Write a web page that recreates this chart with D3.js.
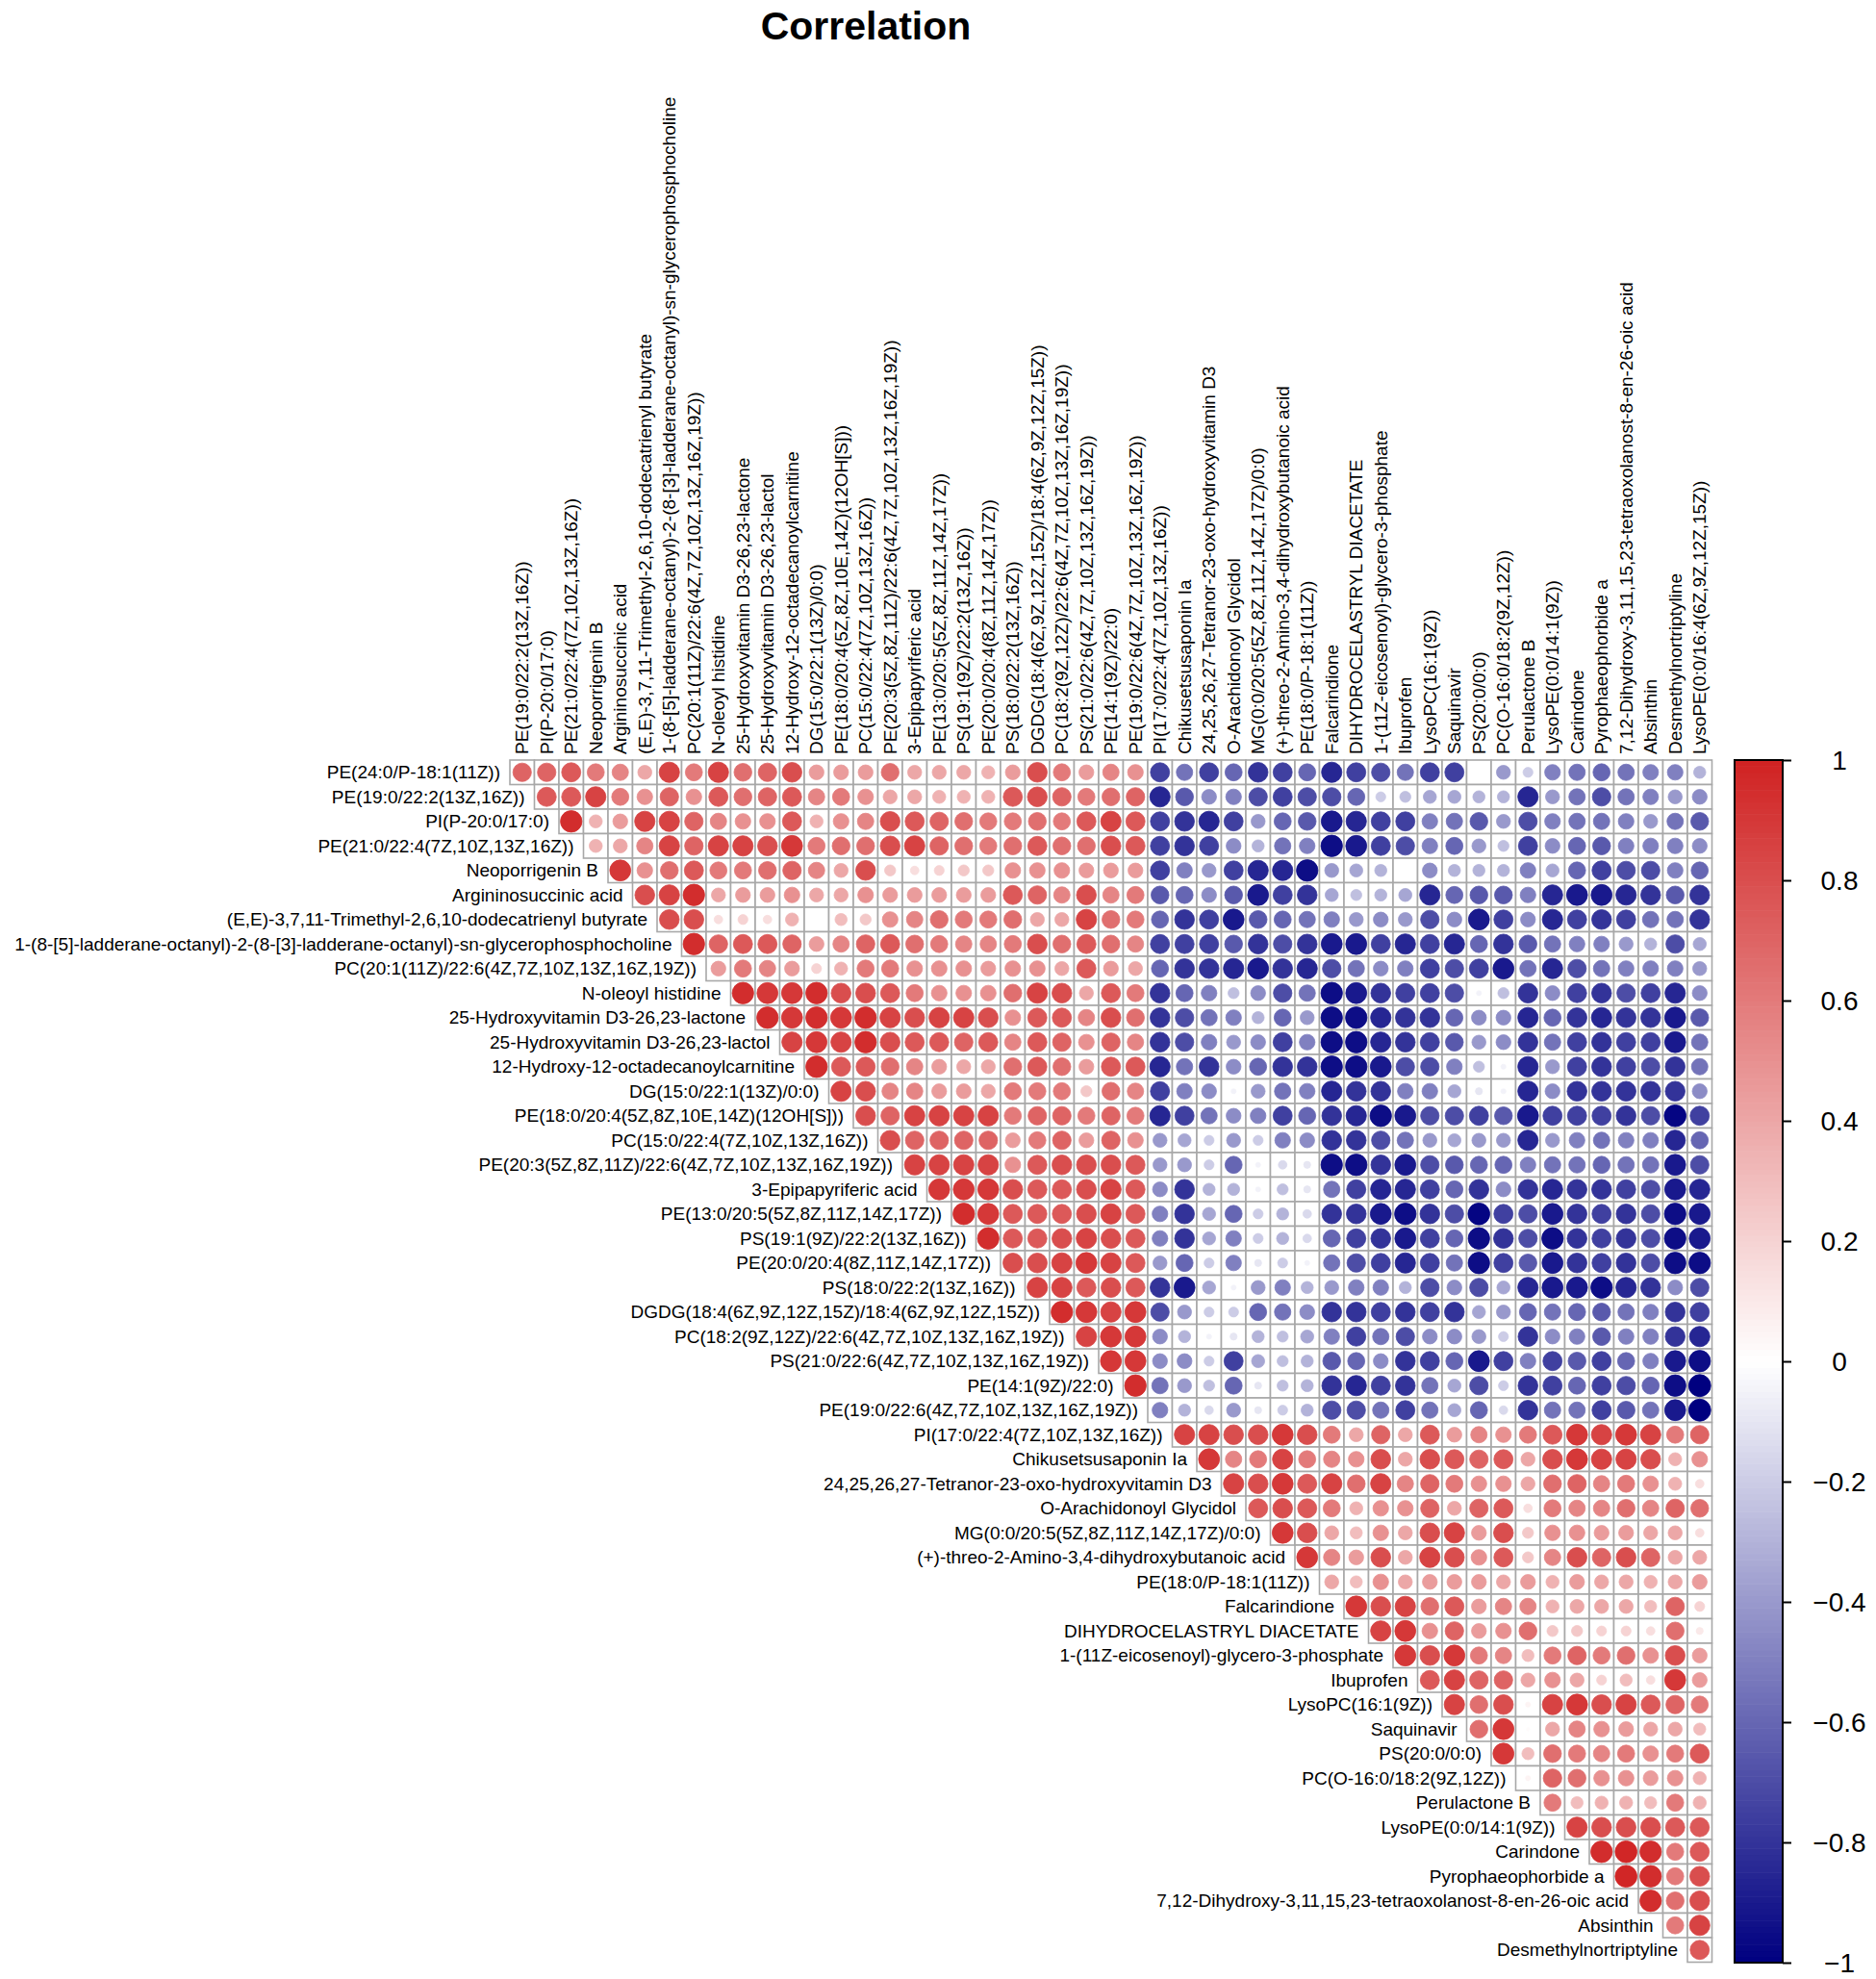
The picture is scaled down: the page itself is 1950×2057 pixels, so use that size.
<!DOCTYPE html>
<html>
<head>
<meta charset="utf-8">
<script src="https://cdn.jsdelivr.net/npm/d3@7"></script>
<style>
  html, body { margin: 0; padding: 0; background: #fff; }
  svg { display: block; font-family: "Liberation Sans", Arial, Helvetica, sans-serif; }
</style>
</head>
<body>
<svg id="chart" width="1950" height="2057"></svg>
<script>
// ---------- DATA ----------
const variables = [
  "PE(24:0/P-18:1(11Z))",
  "PE(19:0/22:2(13Z,16Z))",
  "PI(P-20:0/17:0)",
  "PE(21:0/22:4(7Z,10Z,13Z,16Z))",
  "Neoporrigenin B",
  "Argininosuccinic acid",
  "(E,E)-3,7,11-Trimethyl-2,6,10-dodecatrienyl butyrate",
  "1-(8-[5]-ladderane-octanyl)-2-(8-[3]-ladderane-octanyl)-sn-glycerophosphocholine",
  "PC(20:1(11Z)/22:6(4Z,7Z,10Z,13Z,16Z,19Z))",
  "N-oleoyl histidine",
  "25-Hydroxyvitamin D3-26,23-lactone",
  "25-Hydroxyvitamin D3-26,23-lactol",
  "12-Hydroxy-12-octadecanoylcarnitine",
  "DG(15:0/22:1(13Z)/0:0)",
  "PE(18:0/20:4(5Z,8Z,10E,14Z)(12OH[S]))",
  "PC(15:0/22:4(7Z,10Z,13Z,16Z))",
  "PE(20:3(5Z,8Z,11Z)/22:6(4Z,7Z,10Z,13Z,16Z,19Z))",
  "3-Epipapyriferic acid",
  "PE(13:0/20:5(5Z,8Z,11Z,14Z,17Z))",
  "PS(19:1(9Z)/22:2(13Z,16Z))",
  "PE(20:0/20:4(8Z,11Z,14Z,17Z))",
  "PS(18:0/22:2(13Z,16Z))",
  "DGDG(18:4(6Z,9Z,12Z,15Z)/18:4(6Z,9Z,12Z,15Z))",
  "PC(18:2(9Z,12Z)/22:6(4Z,7Z,10Z,13Z,16Z,19Z))",
  "PS(21:0/22:6(4Z,7Z,10Z,13Z,16Z,19Z))",
  "PE(14:1(9Z)/22:0)",
  "PE(19:0/22:6(4Z,7Z,10Z,13Z,16Z,19Z))",
  "PI(17:0/22:4(7Z,10Z,13Z,16Z))",
  "Chikusetsusaponin Ia",
  "24,25,26,27-Tetranor-23-oxo-hydroxyvitamin D3",
  "O-Arachidonoyl Glycidol",
  "MG(0:0/20:5(5Z,8Z,11Z,14Z,17Z)/0:0)",
  "(+)-threo-2-Amino-3,4-dihydroxybutanoic acid",
  "PE(18:0/P-18:1(11Z))",
  "Falcarindione",
  "DIHYDROCELASTRYL DIACETATE",
  "1-(11Z-eicosenoyl)-glycero-3-phosphate",
  "Ibuprofen",
  "LysoPC(16:1(9Z))",
  "Saquinavir",
  "PS(20:0/0:0)",
  "PC(O-16:0/18:2(9Z,12Z))",
  "Perulactone B",
  "LysoPE(0:0/14:1(9Z))",
  "Carindone",
  "Pyrophaeophorbide a",
  "7,12-Dihydroxy-3,11,15,23-tetraoxolanost-8-en-26-oic acid",
  "Absinthin",
  "Desmethylnortriptyline",
  "LysoPE(0:0/16:4(6Z,9Z,12Z,15Z))"
];

// upper-triangle correlations: row i holds r(i, j) for j = i+1 .. last
const corrRows = [
  [0.7,0.7,0.75,0.6,0.55,0.4,0.85,0.6,0.85,0.65,0.7,0.8,0.45,0.45,0.45,0.65, 0.4,0.4,0.4,0.35,0.45,0.8,0.6,0.45,0.55,0.5,-0.75,-0.55,-0.75,-0.6,-0.8,-0.75,-0.6, -0.85,-0.75,-0.7,-0.55,-0.75,-0.75,0,-0.4,-0.2,-0.5,-0.55,-0.6,-0.55,-0.5,-0.5,-0.3],
  [0.75,0.75,0.85,0.6,0.5,0.7,0.5,0.75,0.65,0.7,0.75,0.55,0.6,0.5,0.4, 0.4,0.35,0.35,0.35,0.75,0.8,0.7,0.6,0.65,0.7,-0.85,-0.65,-0.45,-0.5,-0.7,-0.75,-0.7, -0.7,-0.6,-0.2,-0.25,-0.35,-0.35,-0.3,-0.3,-0.85,-0.4,-0.55,-0.7,-0.55,-0.5,-0.4,-0.45],
  [0.95,0.35,0.45,0.85,0.85,0.7,0.55,0.5,0.5,0.75,0.35,0.5,0.55,0.8, 0.75,0.7,0.65,0.6,0.6,0.65,0.6,0.75,0.85,0.75,-0.75,-0.8,-0.85,-0.75,-0.4,-0.6,-0.65, -0.9,-0.85,-0.75,-0.75,-0.5,-0.55,-0.65,-0.4,-0.7,-0.5,-0.55,-0.55,-0.5,-0.4,-0.55,-0.65],
  [0.35,0.4,0.55,0.85,0.7,0.85,0.85,0.8,0.9,0.6,0.65,0.65,0.8, 0.85,0.7,0.65,0.6,0.65,0.75,0.65,0.65,0.8,0.75,-0.75,-0.8,-0.75,-0.45,-0.3,-0.55,-0.5, -0.95,-0.9,-0.75,-0.7,-0.5,-0.6,-0.4,-0.25,-0.75,-0.45,-0.6,-0.65,-0.5,-0.5,-0.5,-0.45],
  [0.9,0.5,0.65,0.75,0.6,0.6,0.65,0.7,0.55,0.4,0.8,0.25, 0.15,0.2,0.25,0.25,0.5,0.5,0.5,0.45,0.45,0.45,-0.75,-0.5,-0.4,-0.75,-0.85,-0.85,-0.95, -0.4,-0.35,-0.3,0,-0.45,-0.3,-0.3,-0.3,-0.5,-0.35,-0.6,-0.75,-0.7,-0.7,-0.5,-0.6],
  [0.8,0.85,0.95,0.4,0.45,0.45,0.5,0.4,0.4,0.5,0.45, 0.45,0.45,0.45,0.45,0.75,0.7,0.55,0.8,0.55,0.6,-0.65,-0.6,-0.45,-0.65,-0.9,-0.75,-0.8, -0.35,-0.25,-0.3,-0.35,-0.85,-0.6,-0.65,-0.65,-0.5,-0.85,-0.9,-0.9,-0.85,-0.8,-0.65,-0.8],
  [0.8,0.8,0.15,0.2,0.15,0.35,0,0.3,0.25,0.5, 0.55,0.65,0.6,0.6,0.65,0.4,0.4,0.85,0.65,0.6,-0.6,-0.8,-0.75,-0.9,-0.65,-0.6,-0.55, -0.5,-0.4,-0.45,-0.4,-0.7,-0.45,-0.9,-0.75,-0.45,-0.85,-0.75,-0.8,-0.75,-0.55,-0.55,-0.8],
  [0.95,0.7,0.75,0.75,0.7,0.45,0.55,0.7,0.75, 0.65,0.6,0.55,0.55,0.6,0.8,0.65,0.75,0.65,0.55,-0.75,-0.75,-0.75,-0.65,-0.8,-0.7,-0.8, -0.9,-0.9,-0.75,-0.85,-0.75,-0.85,-0.6,-0.8,-0.65,-0.55,-0.5,-0.5,-0.4,-0.3,-0.7,-0.35],
  [0.45,0.6,0.55,0.45,0.2,0.35,0.6,0.6, 0.5,0.5,0.5,0.45,0.5,0.5,0.4,0.75,0.45,0.4,-0.6,-0.8,-0.8,-0.85,-0.9,-0.8,-0.85, -0.7,-0.55,-0.45,-0.5,-0.75,-0.7,-0.75,-0.9,-0.55,-0.85,-0.7,-0.55,-0.5,-0.5,-0.5,-0.4],
  [0.95,0.9,0.9,0.95,0.8,0.8,0.75, 0.6,0.5,0.5,0.5,0.65,0.85,0.8,0.4,0.75,0.6,-0.8,-0.6,-0.5,-0.25,-0.45,-0.7,-0.55, -0.95,-0.9,-0.8,-0.75,-0.75,-0.7,-0.05,-0.25,-0.8,-0.45,-0.75,-0.8,-0.7,-0.75,-0.85,-0.45],
  [0.95,0.9,0.95,0.9,0.95,0.85, 0.8,0.85,0.85,0.8,0.5,0.75,0.75,0.55,0.8,0.65,-0.8,-0.7,-0.55,-0.5,-0.3,-0.6,-0.4, -0.95,-0.95,-0.85,-0.8,-0.8,-0.6,-0.45,-0.45,-0.85,-0.6,-0.8,-0.85,-0.8,-0.8,-0.9,-0.65],
  [0.85,0.9,0.85,0.95,0.8, 0.75,0.75,0.7,0.75,0.55,0.75,0.7,0.5,0.7,0.55,-0.8,-0.7,-0.5,-0.4,-0.45,-0.75,-0.5, -0.95,-0.95,-0.85,-0.8,-0.75,-0.65,-0.4,-0.45,-0.8,-0.55,-0.75,-0.8,-0.75,-0.75,-0.9,-0.55],
  [0.95,0.75,0.75,0.65, 0.55,0.45,0.4,0.4,0.65,0.75,0.65,0.45,0.75,0.75,-0.85,-0.55,-0.8,-0.45,-0.6,-0.8,-0.8, -0.95,-0.95,-0.9,-0.7,-0.7,-0.5,-0.25,-0.05,-0.85,-0.4,-0.75,-0.8,-0.75,-0.7,-0.8,-0.55],
  [0.85,0.8,0.55, 0.55,0.45,0.45,0.4,0.6,0.6,0.6,0.25,0.65,0.55,-0.75,-0.5,-0.45,-0.05,-0.4,-0.55,-0.5, -0.85,-0.8,-0.8,-0.5,-0.5,-0.35,-0.1,-0.05,-0.85,-0.45,-0.8,-0.8,-0.8,-0.8,-0.8,-0.45],
  [0.8,0.7, 0.85,0.85,0.85,0.85,0.6,0.7,0.7,0.6,0.7,0.6,-0.85,-0.75,-0.55,-0.45,-0.5,-0.75,-0.6, -0.8,-0.85,-0.95,-0.9,-0.7,-0.7,-0.75,-0.65,-0.9,-0.75,-0.75,-0.75,-0.8,-0.7,-0.98,-0.75],
  [0.8, 0.7,0.7,0.7,0.7,0.45,0.6,0.7,0.45,0.7,0.5,-0.4,-0.35,-0.2,-0.4,-0.2,-0.5,-0.45, -0.8,-0.8,-0.7,-0.55,-0.4,-0.35,-0.4,-0.4,-0.85,-0.4,-0.5,-0.55,-0.5,-0.5,-0.85,-0.6],
  [0.85,0.85,0.85,0.85,0.5,0.75,0.8,0.8,0.8,0.75,-0.4,-0.4,-0.2,-0.6,-0.05,-0.15,-0.1, -0.95,-0.95,-0.8,-0.9,-0.7,-0.65,-0.6,-0.6,-0.5,-0.55,-0.55,-0.6,-0.55,-0.55,-0.9,-0.7],
  [0.9,0.9,0.9,0.8,0.75,0.75,0.8,0.85,0.75,-0.45,-0.8,-0.3,-0.3,-0.05,-0.25,-0.1, -0.55,-0.75,-0.85,-0.85,-0.75,-0.6,-0.8,-0.45,-0.8,-0.85,-0.8,-0.8,-0.75,-0.7,-0.9,-0.85],
  [0.95,0.9,0.75,0.75,0.75,0.8,0.85,0.75,-0.5,-0.8,-0.35,-0.6,-0.2,-0.3,-0.15, -0.8,-0.8,-0.9,-0.95,-0.8,-0.7,-0.98,-0.75,-0.7,-0.9,-0.8,-0.75,-0.8,-0.7,-0.95,-0.9],
  [0.95,0.75,0.75,0.8,0.85,0.8,0.75,-0.5,-0.8,-0.35,-0.5,-0.2,-0.3,-0.15, -0.6,-0.75,-0.8,-0.9,-0.75,-0.6,-0.95,-0.8,-0.7,-0.95,-0.8,-0.75,-0.8,-0.7,-0.95,-0.9],
  [0.8,0.8,0.85,0.9,0.85,0.75,-0.4,-0.6,-0.2,-0.5,-0.1,-0.2,-0.05, -0.55,-0.7,-0.75,-0.85,-0.75,-0.55,-0.95,-0.75,-0.65,-0.9,-0.8,-0.75,-0.8,-0.7,-0.95,-0.95],
  [0.85,0.85,0.75,0.8,0.75,-0.8,-0.9,-0.35,-0.05,-0.4,-0.5,-0.3, -0.4,-0.5,-0.5,-0.3,-0.7,-0.45,-0.7,-0.35,-0.85,-0.9,-0.9,-0.95,-0.85,-0.8,-0.45,-0.7],
  [0.95,0.9,0.85,0.9,-0.7,-0.4,-0.2,-0.2,-0.6,-0.55,-0.45, -0.8,-0.8,-0.75,-0.8,-0.75,-0.8,-0.35,-0.4,-0.6,-0.55,-0.6,-0.65,-0.55,-0.5,-0.8,-0.75],
  [0.85,0.9,0.9,-0.45,-0.3,-0.05,-0.1,-0.3,-0.25,-0.35, -0.5,-0.75,-0.55,-0.7,-0.45,-0.45,-0.4,-0.2,-0.8,-0.45,-0.5,-0.65,-0.5,-0.5,-0.8,-0.85],
  [0.9,0.9,-0.45,-0.45,-0.2,-0.75,-0.35,-0.25,-0.3, -0.65,-0.6,-0.45,-0.8,-0.75,-0.6,-0.9,-0.75,-0.5,-0.75,-0.65,-0.75,-0.6,-0.5,-0.9,-0.95],
  [0.95,-0.55,-0.4,-0.25,-0.6,-0.1,-0.25,-0.3, -0.8,-0.85,-0.75,-0.8,-0.55,-0.35,-0.7,-0.2,-0.8,-0.75,-0.6,-0.75,-0.7,-0.6,-0.95,-1.0],
  [-0.5,-0.3,-0.15,-0.4,-0.1,-0.2,-0.3, -0.7,-0.7,-0.55,-0.75,-0.55,-0.35,-0.6,-0.15,-0.8,-0.55,-0.55,-0.75,-0.65,-0.55,-0.9,-1.0],
  [0.85,0.85,0.8,0.8,0.9,0.8, 0.6,0.4,0.7,0.4,0.75,0.45,0.55,0.5,0.6,0.75,0.9,0.85,0.9,0.85,0.6,0.7],
  [0.9,0.55,0.6,0.85,0.6, 0.55,0.5,0.8,0.4,0.8,0.75,0.7,0.75,0.4,0.8,0.9,0.85,0.85,0.8,0.35,0.5],
  [0.85,0.8,0.9,0.75, 0.85,0.65,0.85,0.55,0.7,0.6,0.5,0.5,0.4,0.65,0.7,0.55,0.6,0.5,0.35,0.15],
  [0.75,0.8,0.75, 0.6,0.35,0.5,0.5,0.7,0.4,0.7,0.75,0.15,0.6,0.55,0.55,0.65,0.55,0.7,0.65],
  [0.9,0.8, 0.4,0.3,0.5,0.4,0.8,0.85,0.45,0.8,0.25,0.5,0.5,0.45,0.45,0.4,0.4,0.15],
  [0.9, 0.55,0.45,0.8,0.4,0.85,0.8,0.5,0.75,0.25,0.55,0.8,0.7,0.8,0.7,0.4,0.4],
  [0.4,0.3,0.5,0.4,0.45,0.45,0.45,0.4,0.45,0.35,0.45,0.4,0.4,0.35,0.4,0.45],
  [0.9,0.8,0.85,0.65,0.75,0.45,0.55,0.55,0.35,0.4,0.4,0.4,0.3,0.7,0.2],
  [0.85,0.9,0.5,0.7,0.45,0.5,0.65,0.25,0.25,0.2,0.2,0.15,0.65,0.1],
  [0.9,0.8,0.9,0.6,0.55,0.3,0.6,0.7,0.6,0.65,0.5,0.8,0.45],
  [0.75,0.85,0.7,0.7,0.4,0.5,0.4,0.2,0.3,0.15,0.9,0.45],
  [0.85,0.65,0.8,0.05,0.85,0.9,0.8,0.85,0.75,0.7,0.6],
  [0.65,0.9,0.02,0.4,0.55,0.5,0.45,0.4,0.4,0.3],
  [0.9,0.3,0.65,0.6,0.55,0.6,0.5,0.6,0.75],
  [0.05,0.7,0.65,0.5,0.5,0.45,0.5,0.35],
  [0.6,0.3,0.35,0.35,0.3,0.6,0.35],
  [0.85,0.8,0.8,0.8,0.75,0.75],
  [0.95,0.98,0.95,0.6,0.75],
  [0.98,0.95,0.6,0.8],
  [0.95,0.65,0.8],
  [0.6,0.85],
  [0.75]
];

const legendTicks = [1, 0.8, 0.6, 0.4, 0.2, 0, -0.2, -0.4, -0.6, -0.8, -1];
const titleText = "Correlation";

// ---------- LAYOUT ----------
const svg = d3.select("#chart");
svg.append("rect").attr("width", 1950).attr("height", 2057).attr("fill", "#fff");

const colNames = variables.slice(1);
const rowNames = variables.slice(0, variables.length - 1);

const x = d3.scaleBand().domain(colNames).range([530, 1779.5]).padding(0);
const y = d3.scaleBand().domain(rowNames).range([790, 2039.5]).padding(0);
const cell = x.bandwidth();

const color = d3.scaleLinear().domain([-1, 0, 1]).range(["#000080", "#ffffff", "#d02222"]).clamp(true);
const radius = d3.scaleSqrt().domain([0, 1]).range([0, 0.45 * cell]);

// flatten data
const cells = [];
corrRows.forEach((row, i) => {
  row.forEach((v, k) => {
    const j = i + 1 + k;
    cells.push({ row: variables[i], col: variables[j], r: v });
  });
});

const g = svg.append("g");

// grid cells
g.selectAll("rect.cell").data(cells).join("rect")
  .attr("class", "cell")
  .attr("x", d => x(d.col))
  .attr("y", d => y(d.row))
  .attr("width", cell)
  .attr("height", cell)
  .attr("fill", "#fff")
  .attr("stroke", "#a8a8a8")
  .attr("stroke-width", 1.6);

// circles
g.selectAll("circle.corr").data(cells).join("circle")
  .attr("class", "corr")
  .attr("cx", d => x(d.col) + cell / 2)
  .attr("cy", d => y(d.row) + cell / 2)
  .attr("r", d => radius(Math.abs(d.r)))
  .attr("fill", d => color(d.r))
  .attr("stroke", d => color(d.r))
  .attr("stroke-width", 0.8);

// row labels (right-aligned just left of first cell of each row)
g.selectAll("text.rowlab").data(rowNames).join("text")
  .attr("class", "rowlab")
  .attr("x", (d, i) => x(variables[i + 1]) - 10)
  .attr("y", d => y(d) + cell / 2)
  .attr("text-anchor", "end")
  .attr("dominant-baseline", "central")
  .attr("font-size", 19)
  .attr("fill", "#000")
  .text(d => d);

// column labels (rotated)
g.selectAll("text.collab").data(colNames).join("text")
  .attr("class", "collab")
  .attr("transform", d => `translate(${x(d) + cell / 2},${790 - 6}) rotate(-90)`)
  .attr("text-anchor", "start")
  .attr("dominant-baseline", "central")
  .attr("font-size", 19)
  .attr("fill", "#000")
  .text(d => d);

// title
svg.append("text")
  .attr("x", 900)
  .attr("y", 41)
  .attr("text-anchor", "middle")
  .attr("font-size", 41)
  .attr("font-weight", "bold")
  .text(titleText);

// ---------- COLOR LEGEND ----------
const legX = 1803, legW = 50;
const ly = d3.scaleLinear().domain([-1, 1]).range([2040, 790]);
const steps = d3.range(-1, 1, 0.01);
svg.append("g").selectAll("rect").data(steps).join("rect")
  .attr("x", legX)
  .attr("y", d => ly(d + 0.01))
  .attr("width", legW)
  .attr("height", d => ly(d) - ly(d + 0.01) + 0.6)
  .attr("fill", d => color(d + 0.005));
svg.append("rect")
  .attr("x", legX).attr("y", 790).attr("width", legW).attr("height", 1250)
  .attr("fill", "none").attr("stroke", "#000").attr("stroke-width", 2);

const axis = d3.axisRight(ly).tickValues(legendTicks).tickSize(9)
  .tickFormat(d => (d < 0 ? "\u2212" : "") + d3.format("")(Math.abs(d)));
const ag = svg.append("g").attr("transform", `translate(${legX + legW},0)`).call(axis);
ag.select(".domain").remove();
ag.selectAll(".tick line").attr("stroke", "#000").attr("stroke-width", 2);
ag.selectAll(".tick text")
  .attr("x", 1912 - (legX + legW))
  .attr("dy", "0.35em")
  .attr("text-anchor", "middle")
  .attr("font-size", 28)
  .attr("font-family", "Liberation Sans, Arial, sans-serif")
  .attr("fill", "#000");
</script>
</body>
</html>
